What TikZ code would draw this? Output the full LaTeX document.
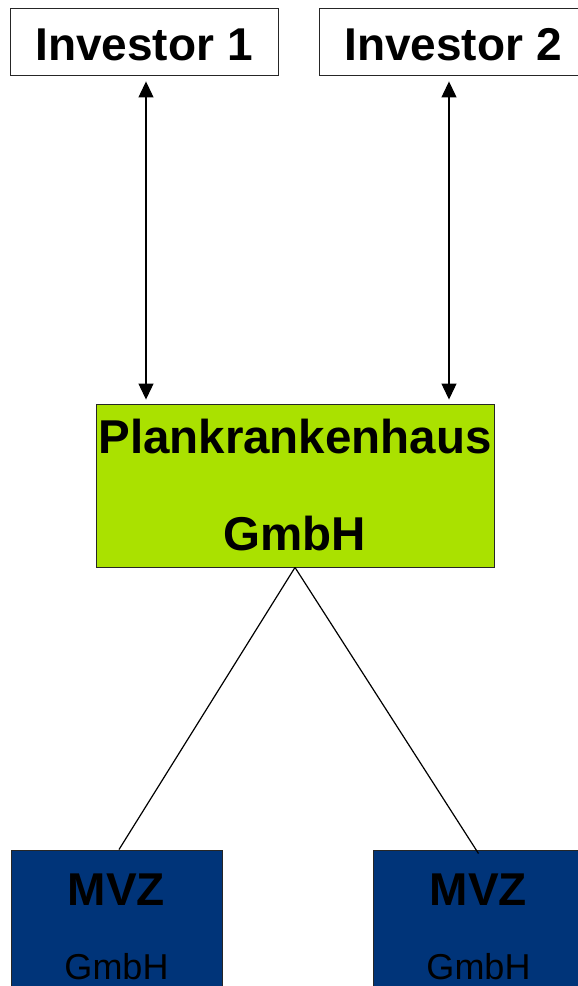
\documentclass[tikz,border=0pt]{standalone}
\usepackage{fontspec}
\setmainfont{Liberation Sans}
\usepackage{xcolor}
\usetikzlibrary{arrows.meta}

\definecolor{plankgreen}{HTML}{AAE100}
\definecolor{mvzblue}{HTML}{003479}
\newcommand{\bigbold}{\fontsize{46}{55}\selectfont\bfseries}
\newcommand{\smallreg}{\fontsize{36}{43}\selectfont\mdseries}

\begin{document}
\begin{tikzpicture}[x=1pt,y=1pt,>={Triangle[width=15pt,length=16pt]},
  box/.style={draw=black!85,line width=0.9pt,rectangle,inner sep=0pt,align=center,font=\bigbold},
  link/.style={line width=1.2pt}]
 \clip (0,0) rectangle (578,986);
 \useasboundingbox (0,0) rectangle (578,986);

 \node[box,minimum width=268,minimum height=67,text height=38pt] (inv1) at (144,944.5) {Investor 1};
 \node[box,minimum width=268,minimum height=67,text height=38pt] (inv2) at (453,944.5) {Investor 2};
 \node[box,fill=plankgreen,minimum width=398,minimum height=163,
  font=\fontsize{47.5}{57}\selectfont\bfseries] (plank) at (295,500.5)
  {Plankrankenhaus\\[40pt]GmbH};
 \node[box,fill=mvzblue,minimum width=211,minimum height=153] (mvz1) at (116.5,59.5)
  {MVZ\\[19pt]{\smallreg GmbH}};
 \node[box,fill=mvzblue,minimum width=211,minimum height=153] (mvz2) at (478.5,59.5)
  {MVZ\\[19pt]{\smallreg GmbH}};

 % investors hold the hospital company
 \draw[<->,link,shorten <=6pt,shorten >=4pt] ([xshift=2pt]inv1.south) -- ([xshift=2pt]inv1.south |- plank.north);
 \draw[<->,link,shorten <=6pt,shorten >=4pt] (inv2.south -| 449,0) -- (449,0 |- plank.north);

 % hospital company holds both MVZ
 \draw[link] (plank.south) -- ([xshift=2.5pt]mvz1.north);
 \draw[link] (plank.south) -- ([yshift=-4pt]mvz2.north);
\end{tikzpicture}
\end{document}
